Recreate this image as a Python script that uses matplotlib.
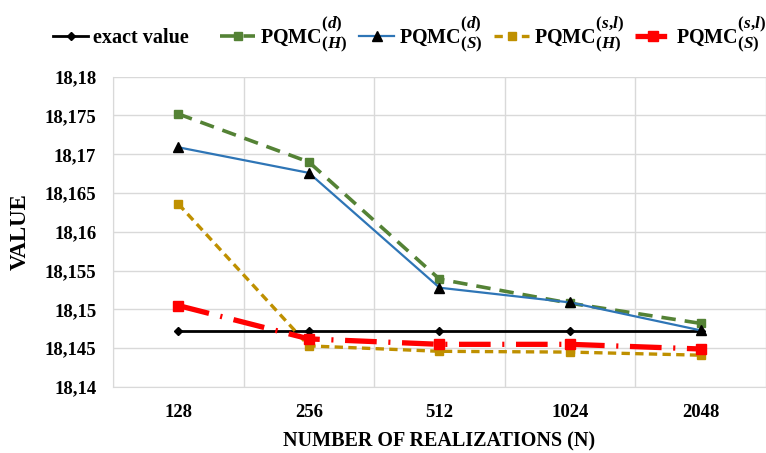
import matplotlib.pyplot as plt
import matplotlib._mathtext as mathtext_internal
from matplotlib.ticker import FuncFormatter

plt.rcParams['font.family'] = 'Liberation Serif'
plt.rcParams['font.weight'] = 'bold'
plt.rcParams['mathtext.fontset'] = 'custom'
plt.rcParams['mathtext.rm'] = 'Liberation Serif:bold'
plt.rcParams['mathtext.it'] = 'Liberation Serif:bold:italic'
plt.rcParams['mathtext.bf'] = 'Liberation Serif:bold'
# the legend scripts are nearly full size in the reference
mathtext_internal.SHRINK_FACTOR = 0.85

# data
N = ['128', '256', '512', '1024', '2048']
exact = [18.1472, 18.1472, 18.1472, 18.1472, 18.1472]
pqmc_d_H = [18.1752, 18.1690, 18.1539, 18.1508, 18.1482]
pqmc_d_S = [18.1709, 18.1676, 18.1528, 18.1509, 18.1473]
pqmc_sl_H = [18.1636, 18.1453, 18.1446, 18.1445, 18.1441]
pqmc_sl_S = [18.1505, 18.1462, 18.1455, 18.1455, 18.1449]

fig = plt.figure(figsize=(7.66, 4.53), dpi=100)
ax = fig.add_axes([0.1475, 0.1457, 0.8525, 0.685])

x = range(len(N))
ax.plot(x, exact, color='black', lw=2, marker='D', ms=4.5, label='exact value    ', zorder=3)
ax.plot(x, pqmc_d_H, color='#548235', lw=2.6, ls=(0, (4, 2.5)), marker='s', ms=6,
        label=r'PQMC$^{\mathit{(d)}}_{\mathit{(H)}}$', zorder=3)
ax.plot(x, pqmc_d_S, color='#2e75b6', lw=1.6, marker='^', ms=6.5, mfc='black', mec='black',
        label=r'PQMC$^{\mathit{(d)}}_{\mathit{(S)}}$', zorder=4)
ax.plot(x, pqmc_sl_H, color='#bf9000', lw=2.4, ls=(0, (2.5, 1.6)), marker='s', ms=6,
        label=r'PQMC$^{\mathit{(s{,}l)}}_{\mathit{(H)}}$', zorder=3)
ax.plot(x, pqmc_sl_S, color='#ff0000', lw=3.8, ls=(0, (6, 2.2, 0.4, 2.2)), marker='s', ms=6.5,
        label=r'PQMC$^{\mathit{(s{,}l)}}_{\mathit{(S)}}$', zorder=3)

ax.set_xlim(-0.5, 4.43)
ax.set_ylim(18.14, 18.18)
ax.set_yticks([18.14 + 0.005 * i for i in range(9)])
ax.yaxis.set_major_formatter(FuncFormatter(lambda v, p: ('%g' % round(v, 3)).replace('.', ',')))
ax.set_xticks(list(x))
ax.set_xticklabels(N)
ax.set_xticks([i + 0.5 for i in range(-1, 5)], minor=True)
ax.tick_params(axis='both', which='both', length=0, labelsize=13.5, pad=12)
ax.grid(True, axis='y', color='#d9d9d9', lw=1)
ax.grid(True, axis='x', which='minor', color='#d9d9d9', lw=1)
for s in ['top', 'right']:
    ax.spines[s].set_visible(False)
ax.spines['left'].set_color('#d9d9d9')
ax.spines['bottom'].set_color('#d9d9d9')

ax.set_xlabel('NUMBER OF REALIZATIONS (N)', fontsize=14.5, fontweight='bold', labelpad=8)
ax.set_ylabel('VALUE', fontsize=16.5, fontweight='bold', labelpad=10)

fig.legend(loc='center left', bbox_to_anchor=(53 / 766, 0.925), ncol=5, frameon=False,
           fontsize=14.5, handlelength=1.75, columnspacing=0.55, handletextpad=0.25,
           borderpad=0, borderaxespad=0)

fig.savefig('out.png', dpi=100)
